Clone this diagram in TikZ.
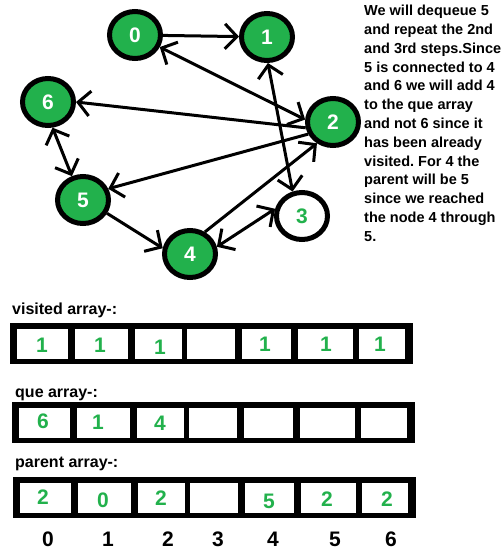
\documentclass[tikz,border=0pt]{standalone}
\usepackage{fontspec}
\setmainfont{Liberation Sans}
\usepackage{xcolor}
\usetikzlibrary{arrows.meta}
\usetikzlibrary{shapes.geometric}
\frenchspacing

\definecolor{paintgreen}{RGB}{34,177,76}

\tikzset{
  vertex/.style={ellipse, draw=black, line width=5pt, fill=paintgreen,
    minimum width=51pt, minimum height=47pt, inner sep=0pt,
    text=white, font=\fontsize{21}{21}\selectfont\bfseries},
  edge/.style={line width=3pt, -{Straight Barb[length=12pt,width=25pt]}},
  biedge/.style={line width=3pt, {Straight Barb[length=12pt,width=25pt]}-{Straight Barb[length=12pt,width=25pt]}},
  label/.style={anchor=base west, inner sep=0pt, font=\fontsize{16}{16}\selectfont\bfseries},
  entry/.style={inner sep=0pt, text=paintgreen, font=\fontsize{21}{21}\selectfont\bfseries},
  index/.style={inner sep=0pt, font=\fontsize{21}{21}\selectfont\bfseries}
}

\begin{document}
\begin{tikzpicture}[x=1pt, y=-1pt]
    \useasboundingbox (0,0) rectangle (502,557);

    % the graph
    \node[vertex] (n0) at (135,35) {0};
    \node[vertex] (n1) at (267,37) {1};
    \node[vertex] (n6) at (48,102) {6};
    \node[vertex] (n2) at (333,122) {2};
    \node[vertex] (n5) at (83,200) {5};
    \node[vertex, fill=white, text=paintgreen] (n3) at (302,216) {3};
    \node[vertex] (n4) at (190,254) {4};

    \draw[edge] (n0) -- (n1);
    \draw[biedge] (n2.175) -- (n0.-26);
    \draw[edge] (n2.192) -- (n6.0);
    \draw[edge] (n2.206) -- (n5.24);
    \draw[biedge] (n6.-80) -- (n5.115);
    \draw[edge] (n5.-29) -- (n4.168);
    \draw[edge] (n4.56) -- (n2.-127);
    \draw[biedge] (n1.-88) -- (n3.111);
    \draw[biedge] (n3.165) -- (n4.15);

    \node[anchor=north west, inner sep=0pt, align=left,
      font=\fontsize{14.5}{18.8}\selectfont\bfseries] (note) at (364,5)
      {We will dequeue 5\\and repeat the 2nd\\and 3rd steps.Since\\5 is connected to 4\\and 6 we will add 4\\to the que array\\and not 6 since it\\has been already\\visited. For 4 the\\parent will be 5\\since we reached\\the node 4 through\\5.};

    % the three arrays
    \node[label] (visitedlabel) at (12,314) {visited array-:};
    \node[label] (quelabel) at (15,397) {que array-:};
    \node[label] (parentlabel) at (15,467) {parent array-:};

    \foreach \top/\dx in {323/0, 402/2, 477/3} {
        \fill (10+\dx,\top) rectangle (413+\dx,\top+41);
        \foreach \a/\b in {17/68, 75/128, 135/182, 187/235, 242/291, 298/353, 359/405}
            \fill[white] (\a+\dx,\top+6) rectangle (\b+\dx,\top+36);
    }

    \foreach \x/\y [count=\i] in {42/345, 100/345, 160/347, 265/344, 326/344, 380/344}
        \node[entry] (visited\i) at (\x,\y) {1};
    \node[entry] (que1) at (43,421) {6};
    \node[entry] (que2) at (98,422) {1};
    \node[entry] (que3) at (160,423) {4};
    \foreach \x/\y/\v [count=\i] in {43/497/2, 103/500/0, 161/498/2, 269/501/5, 327/499/2, 387/499/2}
        \node[entry] (parent\i) at (\x,\y) {\v};

    \foreach \x [count=\i from 0] in {48,108,168,218,273,335,391}
        \node[index] (idx\i) at (\x,539) {\i};
\end{tikzpicture}
\end{document}
